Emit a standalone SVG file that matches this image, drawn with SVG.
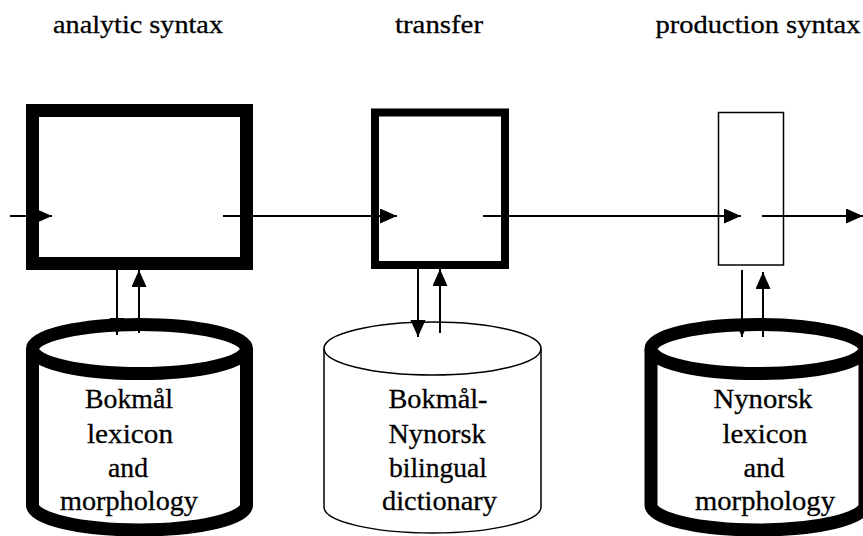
<svg xmlns="http://www.w3.org/2000/svg" width="863" height="536" viewBox="0 0 863 536">
<style>
text{font-family:"Liberation Serif","Times New Roman",serif;fill:#000;text-anchor:middle;stroke:#000;stroke-width:0.3}
.t{font-size:26px}
.c{font-size:27.5px}
.ln{stroke:#000;stroke-width:2;fill:none}
.thick{fill:#fff;stroke:#000;stroke-width:13}
.thin{fill:#fff;stroke:#000;stroke-width:1.5}
</style>
<defs>
<marker id="ah" markerUnits="userSpaceOnUse" markerWidth="18" markerHeight="16" refX="17" refY="7.5" orient="auto">
<path d="M0,0 L17,7.5 L0,15 z" fill="#000"/>
</marker>
</defs>
<g id="titles">
<text class="t" x="138" y="33" textLength="170" lengthAdjust="spacingAndGlyphs">analytic syntax</text>
<text class="t" x="439" y="33" textLength="88" lengthAdjust="spacingAndGlyphs">transfer</text>
<text class="t" x="758" y="33" textLength="205" lengthAdjust="spacingAndGlyphs">production syntax</text>
</g>
<g id="analytic">
<rect class="thick" x="32.5" y="110.5" width="214" height="153"/>
</g>
<g id="transfer">
<rect x="375" y="112.5" width="130" height="152.5" fill="#fff" stroke="#000" stroke-width="8"/>
</g>
<g id="production">
<rect class="thin" x="718.5" y="112.5" width="65" height="152.5"/>
</g>
<g id="bokmal-db">
<path class="thick" d="M32.5,349 L32.5,505 A107,25 0 0 0 246.5,505 L246.5,349"/>
<ellipse class="thick" cx="139.5" cy="349" rx="107" ry="24.5"/>
</g>
<g id="bilingual-db">
<path class="thin" d="M324,348.5 L324,507 A108.5,26 0 0 0 541,507 L541,348.5"/>
<ellipse class="thin" cx="432.5" cy="348.5" rx="108.5" ry="26.5"/>
</g>
<g id="nynorsk-db">
<path class="thick" d="M651,349 L651,505 A107,25 0 0 0 865,505 L865,349"/>
<ellipse class="thick" cx="758" cy="349" rx="107" ry="24.5"/>
</g>
<g id="connectors">
<line class="ln" x1="10" y1="216" x2="52" y2="216" marker-end="url(#ah)"/>
<line class="ln" x1="223" y1="216" x2="397" y2="216" marker-end="url(#ah)"/>
<line class="ln" x1="483" y1="216" x2="741" y2="216" marker-end="url(#ah)"/>
<line class="ln" x1="762" y1="216" x2="863" y2="216" marker-end="url(#ah)"/>
<line class="ln" x1="117" y1="270" x2="117" y2="335" marker-end="url(#ah)"/>
<line class="ln" x1="139" y1="333" x2="139" y2="270" marker-end="url(#ah)"/>
<line class="ln" x1="418" y1="269" x2="418" y2="337" marker-end="url(#ah)"/>
<line class="ln" x1="440" y1="333" x2="440" y2="269" marker-end="url(#ah)"/>
<line class="ln" x1="742" y1="270" x2="742" y2="337" marker-end="url(#ah)"/>
<line class="ln" x1="763" y1="337" x2="763" y2="272" marker-end="url(#ah)"/>
</g>
<g id="bokmal-label">
<text class="c" x="129" y="408" textLength="88" lengthAdjust="spacingAndGlyphs">Bokmål</text>
<text class="c" x="130" y="443" textLength="86" lengthAdjust="spacingAndGlyphs">lexicon</text>
<text class="c" x="128" y="477" textLength="40" lengthAdjust="spacingAndGlyphs">and</text>
<text class="c" x="129" y="510" textLength="138" lengthAdjust="spacingAndGlyphs">morphology</text>
</g>
<g id="bilingual-label">
<text class="c" x="438" y="408" textLength="99" lengthAdjust="spacingAndGlyphs">Bokmål-</text>
<text class="c" x="437" y="443" textLength="97" lengthAdjust="spacingAndGlyphs">Nynorsk</text>
<text class="c" x="438" y="477" textLength="98" lengthAdjust="spacingAndGlyphs">bilingual</text>
<text class="c" x="439.5" y="510" textLength="115" lengthAdjust="spacingAndGlyphs">dictionary</text>
</g>
<g id="nynorsk-label">
<text class="c" x="763" y="408" textLength="99" lengthAdjust="spacingAndGlyphs">Nynorsk</text>
<text class="c" x="765" y="443" textLength="85" lengthAdjust="spacingAndGlyphs">lexicon</text>
<text class="c" x="764" y="477" textLength="41" lengthAdjust="spacingAndGlyphs">and</text>
<text class="c" x="765" y="510" textLength="140" lengthAdjust="spacingAndGlyphs">morphology</text>
</g>
</svg>
